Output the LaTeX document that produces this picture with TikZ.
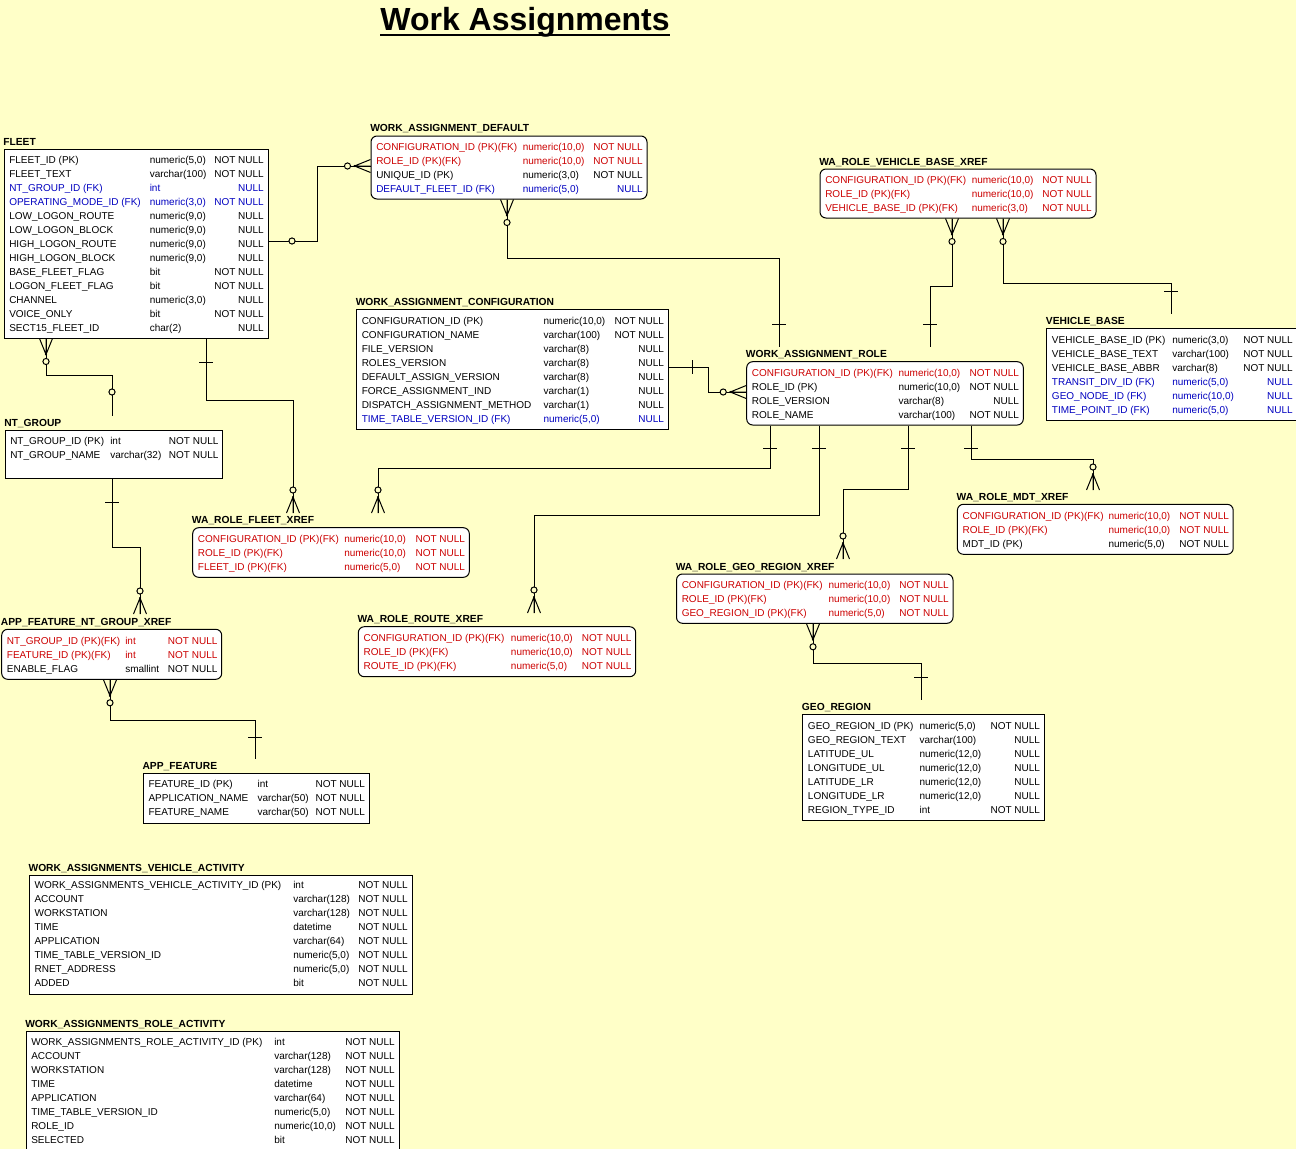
\documentclass[tikz,border=0pt]{standalone}
\usepackage{fontspec}
\setmainfont{Liberation Sans}
\usetikzlibrary{fit,calc}
\definecolor{bg}{RGB}{255,255,200}
\definecolor{pkc}{RGB}{204,0,0}
\definecolor{fkc}{RGB}{0,0,192}
\newcounter{rc}
\newcommand\tblf{\fontsize{7.5}{9}\selectfont}
\newcommand\ttlf{\bfseries\fontsize{7.7}{9}\selectfont}
\tikzset{
 sbox/.style={draw=black, fill=white, line width=0.75pt, inner sep=0pt},
 rbox/.style={sbox, rounded corners=4.5pt},
 ttl/.style={anchor=base west, inner sep=0pt, font=\ttlf},
 txt/.style={anchor=base west, inner sep=0pt, font=\tblf},
 txtr/.style={anchor=base east, inner sep=0pt, font=\tblf},
 conn/.style={draw=black, line width=0.75pt},
 cf/.pic={\draw[conn] (-16,0) -- (0,6.5) (-16,0) -- (0,-6.5) (-16,0) -- (0,0);
   \fill (-16,0) circle (0.9pt);
   \draw[conn, fill=bg] (-23,0) circle (2.3pt);},
 zo/.pic={\draw[conn, fill=bg] (0,0) circle (2.3pt);},
 onebar/.pic={\draw[conn] (0,-7) -- (0,7);},
}
% table: name, x1, y1, x2, y2, style, title, type column x, first row centre y
\newcommand\tbl[9]{%
 \node[#6, fit={(#2,#3)(#4,#5)}] (#1) {};
 \node[ttl] (#1-t) at ({#2-1},{#3-4}) {#7};
 \gdef\cxa{#2+5}\gdef\cxb{#8}\gdef\cxc{#4-4}%
 \pgfmathsetmacro\tmpy{#9}\global\let\cy\tmpy}
\newcommand\rw[4]{%
 \stepcounter{rc}%
 \node[txt,text=#1] (r\therc a) at ({\cxa},{\cy+3.6}) {#2};
 \node[txt,text=#1] (r\therc b) at ({\cxb},{\cy+3.6}) {#3};
 \node[txtr,text=#1] (r\therc c) at ({\cxc},{\cy+3.6}) {#4};
 \pgfmathsetmacro\tmpy{\cy+14}\global\let\cy\tmpy}
\begin{document}
\begin{tikzpicture}[x=0.75pt,y=-0.75pt]
\fill[bg] (0,0) rectangle (1296,1149);
\useasboundingbox (0,0) rectangle (1296,1149);
\clip (0,0) rectangle (1296,1149);

% title
\node[font=\bfseries\fontsize{24}{28}\selectfont, inner sep=0pt, anchor=base] (title) at (525,31) {Work Assignments};
\draw[line width=1.7pt] ([yshift=-3pt]title.base west) -- ([yshift=-3pt]title.base east);

% FLEET
\tbl{fleet}{4}{149}{268}{338}{sbox}{FLEET}{149.5}{160}
\rw{black}{FLEET\_ID (PK)}{numeric(5,0)}{NOT NULL}
\rw{black}{FLEET\_TEXT}{varchar(100)}{NOT NULL}
\rw{fkc}{NT\_GROUP\_ID (FK)}{int}{NULL}
\rw{fkc}{OPERATING\_MODE\_ID (FK)}{numeric(3,0)}{NOT NULL}
\rw{black}{LOW\_LOGON\_ROUTE}{numeric(9,0)}{NULL}
\rw{black}{LOW\_LOGON\_BLOCK}{numeric(9,0)}{NULL}
\rw{black}{HIGH\_LOGON\_ROUTE}{numeric(9,0)}{NULL}
\rw{black}{HIGH\_LOGON\_BLOCK}{numeric(9,0)}{NULL}
\rw{black}{BASE\_FLEET\_FLAG}{bit}{NOT NULL}
\rw{black}{LOGON\_FLEET\_FLAG}{bit}{NOT NULL}
\rw{black}{CHANNEL}{numeric(3,0)}{NULL}
\rw{black}{VOICE\_ONLY}{bit}{NOT NULL}
\rw{black}{SECT15\_FLEET\_ID}{char(2)}{NULL}

% WORK_ASSIGNMENT_DEFAULT
\tbl{wad}{371}{136}{647}{199}{rbox}{WORK\_ASSIGNMENT\_DEFAULT}{522.5}{146.5}
\rw{pkc}{CONFIGURATION\_ID (PK)(FK)}{numeric(10,0)}{NOT NULL}
\rw{pkc}{ROLE\_ID (PK)(FK)}{numeric(10,0)}{NOT NULL}
\rw{black}{UNIQUE\_ID (PK)}{numeric(3,0)}{NOT NULL}
\rw{fkc}{DEFAULT\_FLEET\_ID (FK)}{numeric(5,0)}{NULL}

% WA_ROLE_VEHICLE_BASE_XREF
\tbl{vbx}{820}{169}{1096}{218}{rbox}{WA\_ROLE\_VEHICLE\_BASE\_XREF}{971.5}{179.5}
\rw{pkc}{CONFIGURATION\_ID (PK)(FK)}{numeric(10,0)}{NOT NULL}
\rw{pkc}{ROLE\_ID (PK)(FK)}{numeric(10,0)}{NOT NULL}
\rw{pkc}{VEHICLE\_BASE\_ID (PK)(FK)}{numeric(3,0)}{NOT NULL}

% VEHICLE_BASE
\tbl{vb}{1046.7}{328.3}{1304}{420}{sbox}{VEHICLE\_BASE}{1172}{339.5}
\gdef\cxc{1293}
\rw{black}{VEHICLE\_BASE\_ID (PK)}{numeric(3,0)}{NOT NULL}
\rw{black}{VEHICLE\_BASE\_TEXT}{varchar(100)}{NOT NULL}
\rw{black}{VEHICLE\_BASE\_ABBR}{varchar(8)}{NOT NULL}
\rw{fkc}{TRANSIT\_DIV\_ID (FK)}{numeric(5,0)}{NULL}
\rw{fkc}{GEO\_NODE\_ID (FK)}{numeric(10,0)}{NULL}
\rw{fkc}{TIME\_POINT\_ID (FK)}{numeric(5,0)}{NULL}

% WORK_ASSIGNMENT_CONFIGURATION
\tbl{wac}{356.5}{309.5}{668.3}{429.5}{sbox}{WORK\_ASSIGNMENT\_CONFIGURATION}{543.3}{320.7}
\rw{black}{CONFIGURATION\_ID (PK)}{numeric(10,0)}{NOT NULL}
\rw{black}{CONFIGURATION\_NAME}{varchar(100)}{NOT NULL}
\rw{black}{FILE\_VERSION}{varchar(8)}{NULL}
\rw{black}{ROLES\_VERSION}{varchar(8)}{NULL}
\rw{black}{DEFAULT\_ASSIGN\_VERSION}{varchar(8)}{NULL}
\rw{black}{FORCE\_ASSIGNMENT\_IND}{varchar(1)}{NULL}
\rw{black}{DISPATCH\_ASSIGNMENT\_METHOD}{varchar(1)}{NULL}
\rw{fkc}{TIME\_TABLE\_VERSION\_ID (FK)}{numeric(5,0)}{NULL}

% WORK_ASSIGNMENT_ROLE
\tbl{war}{746.7}{361.7}{1023.3}{425}{rbox}{WORK\_ASSIGNMENT\_ROLE}{898.3}{372.7}
\rw{pkc}{CONFIGURATION\_ID (PK)(FK)}{numeric(10,0)}{NOT NULL}
\rw{black}{ROLE\_ID (PK)}{numeric(10,0)}{NOT NULL}
\rw{black}{ROLE\_VERSION}{varchar(8)}{NULL}
\rw{black}{ROLE\_NAME}{varchar(100)}{NOT NULL}

% NT_GROUP
\tbl{ntg}{5}{430}{222.7}{478.3}{sbox}{NT\_GROUP}{110}{441.3}
\rw{black}{NT\_GROUP\_ID (PK)}{int}{NOT NULL}
\rw{black}{NT\_GROUP\_NAME}{varchar(32)}{NOT NULL}

% WA_ROLE_FLEET_XREF
\tbl{rfx}{192.7}{527.7}{469.3}{577.3}{rbox}{WA\_ROLE\_FLEET\_XREF}{344}{538.5}
\rw{pkc}{CONFIGURATION\_ID (PK)(FK)}{numeric(10,0)}{NOT NULL}
\rw{pkc}{ROLE\_ID (PK)(FK)}{numeric(10,0)}{NOT NULL}
\rw{pkc}{FLEET\_ID (PK)(FK)}{numeric(5,0)}{NOT NULL}

% APP_FEATURE_NT_GROUP_XREF
\tbl{afx}{1.7}{629.3}{221.7}{679.3}{rbox}{APP\_FEATURE\_NT\_GROUP\_XREF}{125}{640.5}
\rw{pkc}{NT\_GROUP\_ID (PK)(FK)}{int}{NOT NULL}
\rw{pkc}{FEATURE\_ID (PK)(FK)}{int}{NOT NULL}
\rw{black}{ENABLE\_FLAG}{smallint}{NOT NULL}

% APP_FEATURE
\tbl{af}{143.3}{773.3}{369.3}{823.3}{sbox}{APP\_FEATURE}{257.3}{784.3}
\rw{black}{FEATURE\_ID (PK)}{int}{NOT NULL}
\rw{black}{APPLICATION\_NAME}{varchar(50)}{NOT NULL}
\rw{black}{FEATURE\_NAME}{varchar(50)}{NOT NULL}

% WA_ROLE_ROUTE_XREF
\tbl{rrx}{358.3}{626.7}{635.7}{676.7}{rbox}{WA\_ROLE\_ROUTE\_XREF}{510.7}{637.7}
\rw{pkc}{CONFIGURATION\_ID (PK)(FK)}{numeric(10,0)}{NOT NULL}
\rw{pkc}{ROLE\_ID (PK)(FK)}{numeric(10,0)}{NOT NULL}
\rw{pkc}{ROUTE\_ID (PK)(FK)}{numeric(5,0)}{NOT NULL}

% WA_ROLE_GEO_REGION_XREF
\tbl{grx}{676.5}{574}{953}{623.3}{rbox}{WA\_ROLE\_GEO\_REGION\_XREF}{828.4}{584.5}
\rw{pkc}{CONFIGURATION\_ID (PK)(FK)}{numeric(10,0)}{NOT NULL}
\rw{pkc}{ROLE\_ID (PK)(FK)}{numeric(10,0)}{NOT NULL}
\rw{pkc}{GEO\_REGION\_ID (PK)(FK)}{numeric(5,0)}{NOT NULL}

% WA_ROLE_MDT_XREF
\tbl{mdx}{957.4}{504.3}{1233.2}{554.3}{rbox}{WA\_ROLE\_MDT\_XREF}{1108.3}{515.7}
\rw{pkc}{CONFIGURATION\_ID (PK)(FK)}{numeric(10,0)}{NOT NULL}
\rw{pkc}{ROLE\_ID (PK)(FK)}{numeric(10,0)}{NOT NULL}
\rw{black}{MDT\_ID (PK)}{numeric(5,0)}{NOT NULL}

% GEO_REGION
\tbl{geo}{802.7}{714.3}{1044.3}{820}{sbox}{GEO\_REGION}{919.3}{726}
\rw{black}{GEO\_REGION\_ID (PK)}{numeric(5,0)}{NOT NULL}
\rw{black}{GEO\_REGION\_TEXT}{varchar(100)}{NULL}
\rw{black}{LATITUDE\_UL}{numeric(12,0)}{NULL}
\rw{black}{LONGITUDE\_UL}{numeric(12,0)}{NULL}
\rw{black}{LATITUDE\_LR}{numeric(12,0)}{NULL}
\rw{black}{LONGITUDE\_LR}{numeric(12,0)}{NULL}
\rw{black}{REGION\_TYPE\_ID}{int}{NOT NULL}

% WORK_ASSIGNMENTS_VEHICLE_ACTIVITY
\tbl{wava}{29.3}{875}{412}{994}{sbox}{WORK\_ASSIGNMENTS\_VEHICLE\_ACTIVITY}{293}{885.3}
\rw{black}{WORK\_ASSIGNMENTS\_VEHICLE\_ACTIVITY\_ID (PK)}{int}{NOT NULL}
\rw{black}{ACCOUNT}{varchar(128)}{NOT NULL}
\rw{black}{WORKSTATION}{varchar(128)}{NOT NULL}
\rw{black}{TIME}{datetime}{NOT NULL}
\rw{black}{APPLICATION}{varchar(64)}{NOT NULL}
\rw{black}{TIME\_TABLE\_VERSION\_ID}{numeric(5,0)}{NOT NULL}
\rw{black}{RNET\_ADDRESS}{numeric(5,0)}{NOT NULL}
\rw{black}{ADDED}{bit}{NOT NULL}

% WORK_ASSIGNMENTS_ROLE_ACTIVITY
\tbl{wara}{26}{1031.5}{399}{1160}{sbox}{WORK\_ASSIGNMENTS\_ROLE\_ACTIVITY}{274}{1041.5}
\rw{black}{WORK\_ASSIGNMENTS\_ROLE\_ACTIVITY\_ID (PK)}{int}{NOT NULL}
\rw{black}{ACCOUNT}{varchar(128)}{NOT NULL}
\rw{black}{WORKSTATION}{varchar(128)}{NOT NULL}
\rw{black}{TIME}{datetime}{NOT NULL}
\rw{black}{APPLICATION}{varchar(64)}{NOT NULL}
\rw{black}{TIME\_TABLE\_VERSION\_ID}{numeric(5,0)}{NOT NULL}
\rw{black}{ROLE\_ID}{numeric(10,0)}{NOT NULL}
\rw{black}{SELECTED}{bit}{NOT NULL}

% ---------- connectors ----------
% FLEET -> WORK_ASSIGNMENT_DEFAULT
\coordinate (a1) at (fleet.east |- 0,241);
\coordinate (a2) at (wad.west |- 0,166);
\draw[conn] (a1) -| (317,166) -- (a2);
\pic at (292,241) {zo};
\pic at (a2) {cf};

% WORK_ASSIGNMENT_ROLE -> WORK_ASSIGNMENT_DEFAULT
\coordinate (b1) at (wad.south -| 507,0);
\coordinate (b2) at (779,347);
\draw[conn] (b1) |- (779,258) -- (b2);
\pic[rotate=90] at (b1) {cf};
\pic[rotate=90] at (779,324) {onebar};

% NT_GROUP -> FLEET
\coordinate (c1) at (fleet.south -| 46,0);
\coordinate (c2) at (112,416);
\draw[conn] (c1) |- (112,375) -- (c2);
\pic[rotate=90] at (c1) {cf};
\pic at (112,392) {zo};

% FLEET -> WA_ROLE_FLEET_XREF
\coordinate (d1) at (fleet.south -| 206,0);
\coordinate (d2) at (293,513);
\draw[conn] (d1) |- (293,400) -- (d2);
\pic[rotate=90] at (206,362) {onebar};
\pic[rotate=-90] at (d2) {cf};

% WORK_ASSIGNMENT_ROLE -> WA_ROLE_FLEET_XREF
\coordinate (e1) at (war.south -| 770,0);
\coordinate (e2) at (378,513);
\draw[conn] (e1) |- (378,468) -- (e2);
\pic[rotate=90] at (770,448) {onebar};
\pic[rotate=-90] at (e2) {cf};

% WORK_ASSIGNMENT_ROLE -> WA_ROLE_ROUTE_XREF
\coordinate (f1) at (war.south -| 819,0);
\coordinate (f2) at (534,613);
\draw[conn] (f1) |- (534,515) -- (f2);
\pic[rotate=90] at (819,448) {onebar};
\pic[rotate=-90] at (f2) {cf};

% WORK_ASSIGNMENT_ROLE -> WA_ROLE_GEO_REGION_XREF
\coordinate (g1) at (war.south -| 908,0);
\coordinate (g2) at (843,559);
\draw[conn] (g1) |- (843,489) -- (g2);
\pic[rotate=90] at (908,448) {onebar};
\pic[rotate=-90] at (g2) {cf};

% WORK_ASSIGNMENT_ROLE -> WA_ROLE_MDT_XREF
\coordinate (h1) at (war.south -| 971,0);
\coordinate (h2) at (1093,490);
\draw[conn] (h1) |- (1093,459) -- (h2);
\pic[rotate=90] at (971,448) {onebar};
\pic[rotate=-90] at (h2) {cf};

% GEO_REGION -> WA_ROLE_GEO_REGION_XREF
\coordinate (i1) at (grx.south -| 813,0);
\coordinate (i2) at (921,700);
\draw[conn] (i1) |- (921,663) -- (i2);
\pic[rotate=90] at (i1) {cf};
\pic[rotate=90] at (921,677) {onebar};

% WORK_ASSIGNMENT_CONFIGURATION -> WORK_ASSIGNMENT_ROLE
\coordinate (j1) at (wac.east |- 0,367);
\coordinate (j2) at (war.west |- 0,392);
\draw[conn] (j1) -| (708,392) -- (j2);
\pic at (692,367) {onebar};
\pic at (j2) {cf};

% WORK_ASSIGNMENT_ROLE -> WA_ROLE_VEHICLE_BASE_XREF
\coordinate (k1) at (vbx.south -| 952,0);
\coordinate (k2) at (930,347);
\draw[conn] (k1) |- (930,286) -- (k2);
\pic[rotate=90] at (k1) {cf};
\pic[rotate=90] at (930,324) {onebar};

% VEHICLE_BASE -> WA_ROLE_VEHICLE_BASE_XREF
\coordinate (l1) at (vbx.south -| 1003,0);
\coordinate (l2) at (1171,314);
\draw[conn] (l1) |- (1171,283) -- (l2);
\pic[rotate=90] at (l1) {cf};
\pic[rotate=90] at (1171,291) {onebar};

% NT_GROUP -> APP_FEATURE_NT_GROUP_XREF
\coordinate (m1) at (ntg.south -| 112,0);
\coordinate (m2) at (140,614);
\draw[conn] (m1) |- (140,547) -- (m2);
\pic[rotate=90] at (112,502) {onebar};
\pic[rotate=-90] at (m2) {cf};

% APP_FEATURE -> APP_FEATURE_NT_GROUP_XREF
\coordinate (n1) at (afx.south -| 110,0);
\coordinate (n2) at (255,759);
\draw[conn] (n1) |- (255,720) -- (n2);
\pic[rotate=90] at (n1) {cf};
\pic[rotate=90] at (255,737) {onebar};
\end{tikzpicture}
\end{document}
